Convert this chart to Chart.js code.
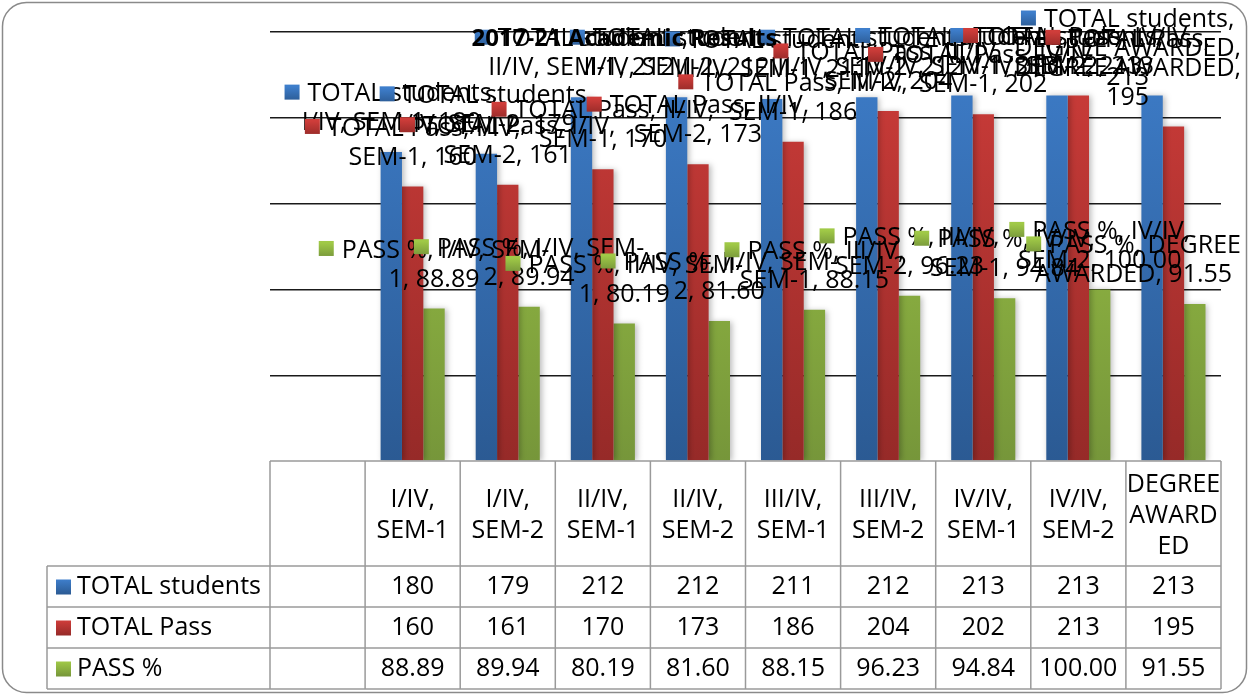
<!DOCTYPE html>
<html><head><meta charset="utf-8">
<script src="https://cdn.jsdelivr.net/npm/chart.js@4"></script>
<style>html,body{margin:0;padding:0;background:#fff}</style>
</head><body><canvas id="c" width="1249" height="696"></canvas>
<script>
const chartTitle = '2017-21 Academic Results';
const categories = ['I/IV, SEM-1','I/IV, SEM-2','II/IV, SEM-1','II/IV, SEM-2','III/IV, SEM-1','III/IV, SEM-2','IV/IV, SEM-1','IV/IV, SEM-2','DEGREE AWARDED'];
const seriesNames = ['TOTAL students','TOTAL Pass','PASS %'];
const totalStudents = [180,179,212,212,211,212,213,213,213];
const totalPass = [160,161,170,173,186,204,202,213,195];
const passPercent = [88.89,89.94,80.19,81.60,88.15,96.23,94.84,100.00,91.55];
const yMin = 0, yMax = 250, yStep = 50;

const FONT = "'Open Sans', sans-serif";
const FS = 25;
const colorsTop = ['#3e7ecb','#cf3d3a','#a0c947'];
const colorsBot = ['#2b5a93','#962a28','#76963a'];
const decimals = [0,0,2];

// empty leading category as in the original chart
const labels = [''].concat(categories);
const seriesData = [totalStudents, totalPass, passPercent].map(a => [null].concat(a));

function grad(ctx, i, y0, y1) {
  const g = ctx.createLinearGradient(0, y0, 0, y1);
  g.addColorStop(0, colorsTop[i]);
  g.addColorStop(1, colorsBot[i]);
  return g;
}

function wrapWords(ctx, text, maxW, firstIndent) {
  const tokens = [];
  text.split(' ').forEach((w, wi) => {
    const parts = w.split(/(?<=-)/);
    parts.forEach((p, pi) => tokens.push({t: p, sp: pi === 0 && wi > 0}));
  });
  const lines = [];
  let cur = '';
  tokens.forEach(tok => {
    const ind = lines.length === 0 ? firstIndent : 0;
    const cand = cur === '' ? tok.t : cur + (tok.sp ? ' ' : '') + tok.t;
    if (cur !== '' && ctx.measureText(cand).width + ind > maxW) {
      lines.push(cur);
      cur = tok.t;
    } else cur = cand;
  });
  if (cur) lines.push(cur);
  return lines;
}

function wrapCell(ctx, text, maxW) {
  const out = [];
  text.split(' ').forEach(w => {
    let rest = w;
    while (ctx.measureText(rest).width > maxW) {
      let k = rest.length;
      while (k > 1 && ctx.measureText(rest.slice(0, k)).width > maxW) k--;
      out.push(rest.slice(0, k));
      rest = rest.slice(k);
    }
    out.push(rest);
  });
  return out;
}

const decorPlugin = {
  id: 'decor',
  beforeDraw(chart) {
    const ctx = chart.ctx;
    ctx.save();
    ctx.fillStyle = '#fff';
    ctx.fillRect(0, 0, chart.width, chart.height);
    ctx.strokeStyle = '#8a8a8a';
    ctx.lineWidth = 1.5;
    ctx.beginPath();
    ctx.roundRect(2.5, 2.5, chart.width - 5, chart.height - 6, 24);
    ctx.stroke();
    ctx.restore();
  },
  beforeDatasetsDraw(chart) {
    const ctx = chart.ctx;
    ctx.save();
    ctx.shadowColor = 'rgba(0,0,0,0.28)';
    ctx.shadowBlur = 6;
    ctx.shadowOffsetX = 2;
    ctx.shadowOffsetY = 1;
  },
  afterDatasetsDraw(chart) {
    const ctx = chart.ctx;
    ctx.restore();
    ctx.save();
    ctx.font = FS + 'px ' + FONT;
    ctx.fillStyle = '#000';
    ctx.textBaseline = 'middle';
    const sq = 15, gap = 8, lh = 29, maxW = 243;
    const minX = 8, maxX = chart.width - 8;
    chart.data.datasets.forEach((ds, i) => {
      const meta = chart.getDatasetMeta(i);
      ds.data.forEach((v, j) => {
        if (v == null) return;
        const el = meta.data[j];
        const txt = seriesNames[i] + ', ' + labels[j] + ', ' + v.toFixed(decimals[i]);
        const lines = wrapWords(ctx, txt, maxW, sq + gap);
        const n = lines.length;
        const widths = lines.map((ln, k) => ctx.measureText(ln).width + (k === 0 ? sq + gap : 0));
        const blockW = Math.max.apply(null, widths);
        let cx = el.x;
        if (cx + blockW / 2 > maxX) cx = maxX - blockW / 2;
        if (cx - blockW / 2 < minX) cx = minX + blockW / 2;
        let yFirst = el.y - lh * n;
        if (yFirst < 20) yFirst = 20;
        lines.forEach((ln, k) => {
          const y = yFirst + lh * k;
          let x0 = cx - widths[k] / 2;
          if (k === 0) {
            ctx.fillStyle = grad(ctx, i, y - sq / 2, y + sq / 2);
            ctx.fillRect(x0, y - sq / 2 - 2, sq, sq);
            ctx.fillStyle = '#000';
            x0 += sq + gap;
          }
          ctx.textAlign = 'left';
          ctx.fillText(ln, x0, y);
        });
      });
    });
    ctx.restore();
  },
  afterDraw(chart) {
    const ctx = chart.ctx;
    const xs = chart.scales.x;
    const area = chart.chartArea;
    const n = labels.length;
    const colW = (area.right - area.left) / n;
    const edges = [];
    for (let k = 0; k <= n; k++) edges.push(area.left + k * colW);
    const top = area.bottom;
    const headH = 105, rowH = 41;
    const leftX = 47;
    const rows = [top + headH, top + headH + rowH, top + headH + 2 * rowH, top + headH + 3 * rowH];
    ctx.save();
    ctx.strokeStyle = '#9a9a9a';
    ctx.lineWidth = 1.5;
    ctx.beginPath();
    ctx.moveTo(edges[0], top); ctx.lineTo(edges[n], top);
    rows.forEach(y => { ctx.moveTo(leftX, y); ctx.lineTo(edges[n], y); });
    edges.forEach(x => { ctx.moveTo(x, top); ctx.lineTo(x, rows[3]); });
    ctx.moveTo(leftX, rows[0]); ctx.lineTo(leftX, rows[3]);
    ctx.stroke();

    ctx.font = FS + 'px ' + FONT;
    ctx.fillStyle = '#000';
    ctx.textBaseline = 'middle';
    ctx.textAlign = 'center';
    for (let k = 0; k < n; k++) {
      if (!labels[k]) continue;
      const cx = xs.getPixelForValue(k);
      const lines = wrapCell(ctx, labels[k], colW + 6);
      const lh = 31;
      const y0 = top + headH / 2 + 2 - (lines.length - 1) * lh / 2;
      lines.forEach((ln, li) => ctx.fillText(ln, cx, y0 + li * lh));
    }
    seriesData.forEach((arr, i) => {
      const cy = rows[i] + rowH / 2;
      ctx.fillStyle = grad(ctx, i, cy - 7, cy + 8);
      ctx.fillRect(leftX + 9, cy - 7, 15, 15);
      ctx.fillStyle = '#000';
      ctx.textAlign = 'left';
      ctx.fillText(seriesNames[i], leftX + 30, cy);
      ctx.textAlign = 'center';
      arr.forEach((v, k) => {
        if (v == null) return;
        ctx.fillText(v.toFixed(decimals[i]), xs.getPixelForValue(k), cy);
      });
    });
    ctx.font = 'bold 24px ' + FONT;
    ctx.textAlign = 'center';
    ctx.fillText(chartTitle, chart.width / 2, 39);
    ctx.restore();
  }
};

new Chart(document.getElementById('c'), {
  type: 'bar',
  data: {
    labels: labels,
    datasets: seriesData.map((d, i) => ({
      label: seriesNames[i],
      data: d,
      backgroundColor: (c) => {
        const a = c.chart.chartArea;
        if (!a) return colorsTop[i];
        return grad(c.chart.ctx, i, a.top, a.bottom);
      },
      borderWidth: 0,
      categoryPercentage: 0.674,
      barPercentage: 1
    }))
  },
  options: {
    responsive: false,
    animation: false,
    devicePixelRatio: 1,
    layout: { padding: { left: 270, right: 28, top: 32, bottom: 235 } },
    plugins: { legend: { display: false }, title: { display: false }, tooltip: { enabled: false } },
    scales: {
      x: { display: false, offset: true },
      y: {
        min: yMin, max: yMax,
        ticks: { display: false, stepSize: yStep },
        grid: {
          drawTicks: false,
          color: (c) => c.tick && c.tick.value === 0 ? 'rgba(0,0,0,0)' : '#1a1a1a',
          lineWidth: 1.4
        },
        border: { display: false },
        afterFit: (s) => { s.width = 0; }
      }
    }
  },
  plugins: [decorPlugin]
});
</script>
</body></html>
